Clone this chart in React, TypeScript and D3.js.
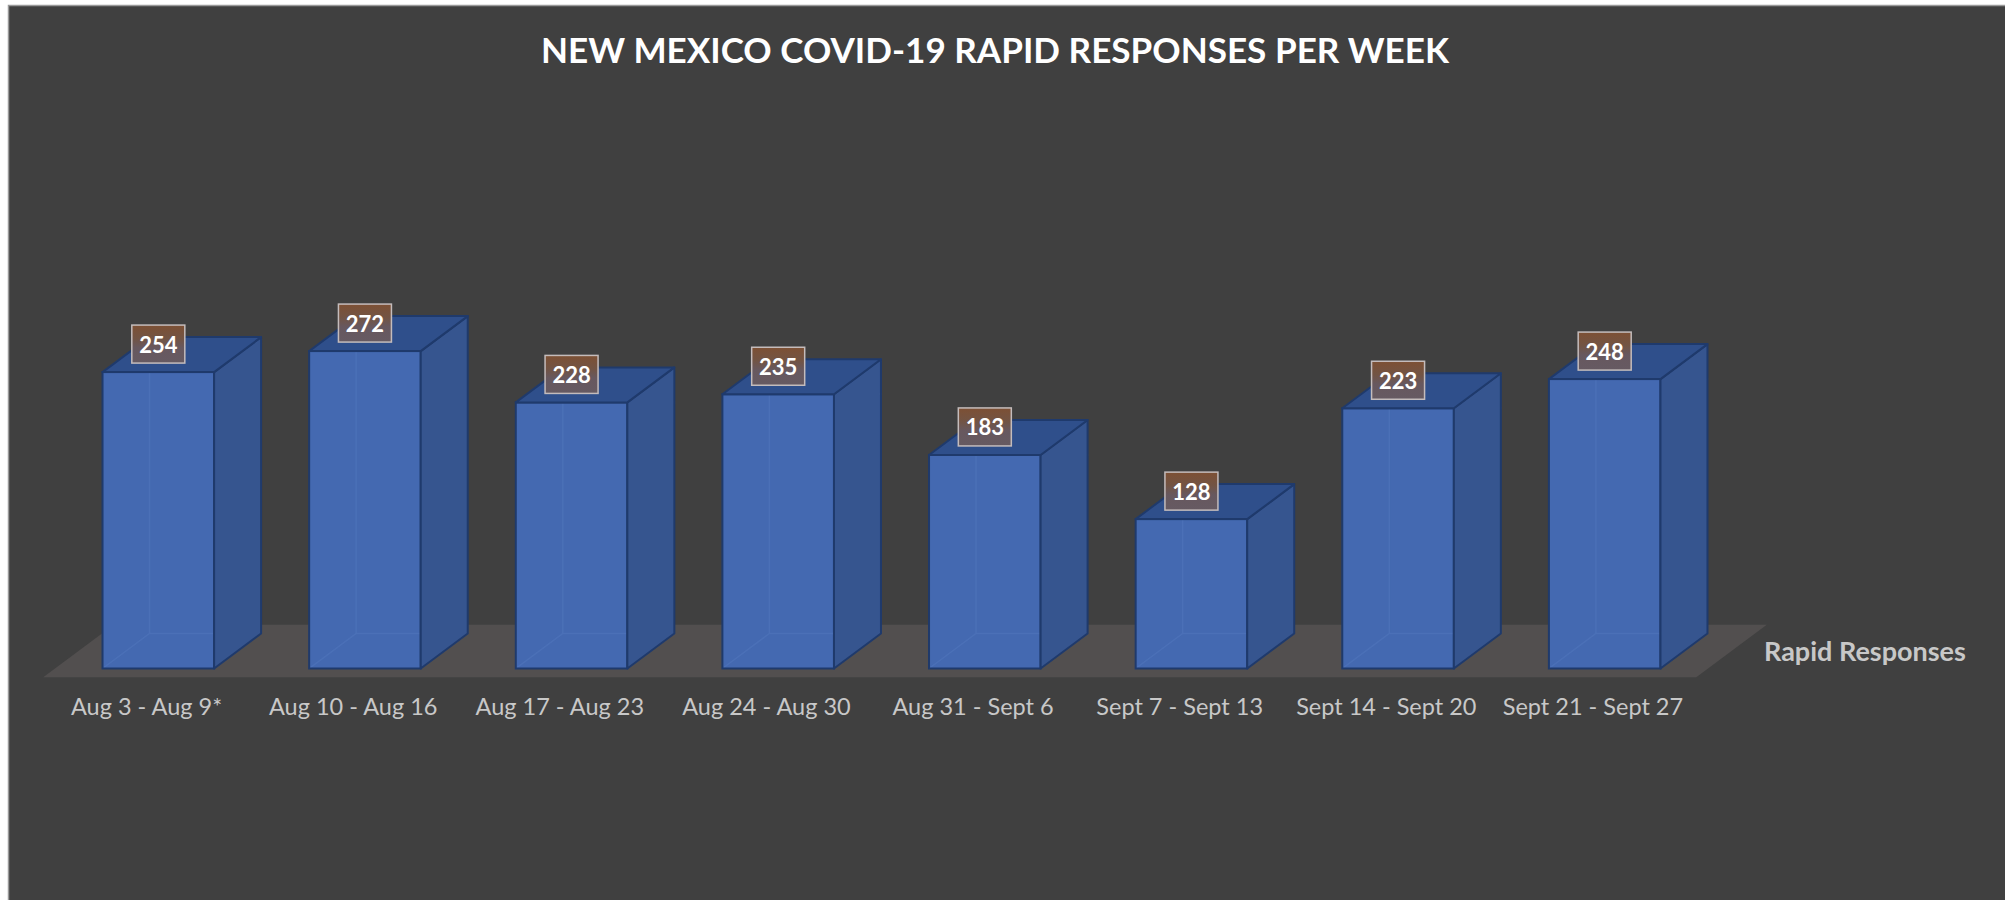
import React, { useEffect, useRef } from 'react';
import * as d3 from 'd3';

// chart data
const title = 'NEW MEXICO COVID-19 RAPID RESPONSES PER WEEK';
const seriesName = 'Rapid Responses';
const weeks = [
  'Aug 3 - Aug 9*',
  'Aug 10 - Aug 16',
  'Aug 17 - Aug 23',
  'Aug 24 - Aug 30',
  'Aug 31 - Sept 6',
  'Sept 7 - Sept 13',
  'Sept 14 - Sept 20',
  'Sept 21 - Sept 27',
];
const responses = [254, 272, 228, 235, 183, 128, 223, 248];

const W = 2005;
const H = 900;

export default function App() {
  const svgRef = useRef<SVGSVGElement | null>(null);

  useEffect(() => {
    const svg = d3.select(svgRef.current);
    svg.selectAll('*').remove();

    // page + chart area
    svg.append('rect').attr('width', W).attr('height', H).attr('fill', '#ffffff');
    svg
      .append('rect')
      .attr('x', 8)
      .attr('y', 5)
      .attr('width', W - 8)
      .attr('height', H - 5)
      .attr('fill', '#404040');
    svg
      .append('path')
      .attr('d', `M8.5,${H} L8.5,5.5 L${W},5.5`)
      .attr('fill', 'none')
      .attr('stroke', '#9a9a9a')
      .attr('stroke-width', 1.5);

    const defs = svg.append('defs');
    const grad = defs
      .append('linearGradient')
      .attr('id', 'lblGrad')
      .attr('x1', 0)
      .attr('y1', 0)
      .attr('x2', 0)
      .attr('y2', 1);
    grad.append('stop').attr('offset', '0%').attr('stop-color', '#7d5034');
    grad.append('stop').attr('offset', '35%').attr('stop-color', '#725444');
    grad.append('stop').attr('offset', '60%').attr('stop-color', '#67585f');
    grad.append('stop').attr('offset', '100%').attr('stop-color', '#665a62');

    // scales
    const x = d3
      .scaleBand<string>()
      .domain(weeks)
      .range([55, 1708])
      .paddingInner(0.46)
      .paddingOuter(0.23);
    const base = 668.5;
    const y = d3
      .scaleLinear()
      .domain([0, 300])
      .range([base, base - 300 * 1.167]);
    const bw = x.bandwidth();

    // 3d depth offsets
    const dx = 47;
    const dy = 35;

    // floor
    const [r0, r1] = x.range();
    const f0 = -0.25;
    const f1 = 1.25;
    const floorPts: [number, number][] = [
      [r0 + dx * f0, base - dy * f0],
      [r1 + dx * f0, base - dy * f0],
      [r1 + dx * f1, base - dy * f1],
      [r0 + dx * f1, base - dy * f1],
    ];
    svg
      .append('polygon')
      .attr('points', floorPts.map((p) => p.join(',')).join(' '))
      .attr('fill', '#524f4f');

    const bars = svg
      .append('g')
      .selectAll('g')
      .data(weeks)
      .join('g');

    const edge = '#1f3a6c';

    // front face
    bars
      .append('rect')
      .attr('x', (d) => x(d)!)
      .attr('y', (d, i) => y(responses[i]))
      .attr('width', bw)
      .attr('height', (d, i) => base - y(responses[i]))
      .attr('fill', '#4469b1');

    // hidden edges seen through the box
    bars
      .append('path')
      .attr('d', (d, i) => {
        const xl = x(d)!;
        const xr = xl + bw;
        const yt = y(responses[i]);
        return `M${xl},${base} L${xl + dx},${base - dy} L${xr + dx},${base - dy} M${xl + dx},${base - dy} L${xl + dx},${yt - dy}`;
      })
      .attr('fill', 'none')
      .attr('stroke', '#5a7fc4')
      .attr('stroke-opacity', 0.35)
      .attr('stroke-width', 1.5);

    bars
      .append('rect')
      .attr('x', (d) => x(d)!)
      .attr('y', (d, i) => y(responses[i]))
      .attr('width', bw)
      .attr('height', (d, i) => base - y(responses[i]))
      .attr('fill', 'none')
      .attr('stroke', edge)
      .attr('stroke-width', 2);

    // right face
    bars
      .append('polygon')
      .attr('points', (d, i) => {
        const xr = x(d)! + bw;
        const yt = y(responses[i]);
        return `${xr},${base} ${xr + dx},${base - dy} ${xr + dx},${yt - dy} ${xr},${yt}`;
      })
      .attr('fill', '#36558f')
      .attr('stroke', edge)
      .attr('stroke-width', 2)
      .attr('stroke-linejoin', 'round');

    // top face
    bars
      .append('polygon')
      .attr('points', (d, i) => {
        const xl = x(d)!;
        const xr = xl + bw;
        const yt = y(responses[i]);
        return `${xl},${yt} ${xl + dx},${yt - dy} ${xr + dx},${yt - dy} ${xr},${yt}`;
      })
      .attr('fill', '#2f4f8b')
      .attr('stroke', edge)
      .attr('stroke-width', 2)
      .attr('stroke-linejoin', 'round');

    // value labels
    const lw = 53;
    const lh = 38;
    bars
      .append('rect')
      .attr('x', (d) => x(d)! + bw / 2 - lw / 2)
      .attr('y', (d, i) => y(responses[i]) - 9 - lh)
      .attr('width', lw)
      .attr('height', lh)
      .attr('fill', 'url(#lblGrad)')
      .attr('stroke', '#c4bcbc')
      .attr('stroke-width', 1.5);
    bars
      .append('text')
      .attr('x', (d) => x(d)! + bw / 2)
      .attr('y', (d, i) => y(responses[i]) - 9 - lh + 27.5)
      .attr('text-anchor', 'middle')
      .attr('font-family', 'Lato, sans-serif')
      .attr('font-weight', 700)
      .attr('font-size', 22)
      .attr('fill', '#ffffff')
      .text((d, i) => responses[i]);

    // category labels
    svg
      .append('g')
      .selectAll('text')
      .data(weeks)
      .join('text')
      .attr('x', (d) => x(d)! + bw / 2 + dx * f0)
      .attr('y', 715)
      .attr('text-anchor', 'middle')
      .attr('font-family', 'Lato, sans-serif')
      .attr('font-size', 23.5)
      .attr('fill', '#c8c8c8')
      .text((d) => d);

    // series name
    svg
      .append('text')
      .attr('x', 1764)
      .attr('y', 661)
      .attr('font-family', 'Lato, sans-serif')
      .attr('font-weight', 700)
      .attr('font-size', 27)
      .attr('fill', '#c8c8c8')
      .text(seriesName);

    // title
    svg
      .append('text')
      .attr('x', 995)
      .attr('y', 63)
      .attr('text-anchor', 'middle')
      .attr('font-family', 'Lato, sans-serif')
      .attr('font-weight', 700)
      .attr('font-size', 34)
      .attr('fill', '#ffffff')
      .attr('textLength', 908)
      .attr('lengthAdjust', 'spacingAndGlyphs')
      .text(title);
  }, []);

  return (
    <svg
      ref={svgRef}
      width={W}
      height={H}
      style={{ position: 'absolute', left: 0, top: 0, display: 'block' }}
    ></svg>
  );
}
